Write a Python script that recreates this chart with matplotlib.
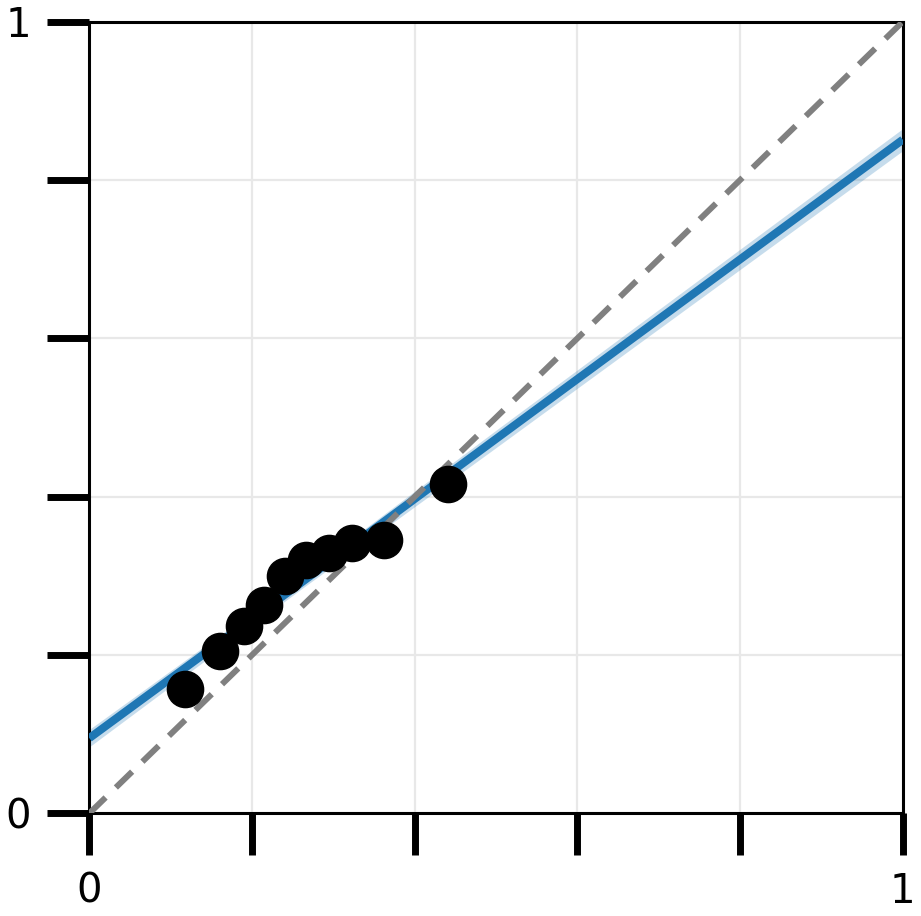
import matplotlib
matplotlib.use("Agg")
import matplotlib.pyplot as plt
import numpy as np

# observed points
pred = [0.117, 0.161, 0.190, 0.215, 0.241, 0.266, 0.295, 0.323, 0.362, 0.441]
obs = [0.157, 0.205, 0.236, 0.263, 0.300, 0.320, 0.329, 0.341, 0.345, 0.416]

# fitted line and its band
fit_x = [0.0, 0.26, 0.5, 1.0]
fit_y = [0.095, 0.291, 0.473, 0.851]
band_lo = [0.084, 0.283, 0.462, 0.837]
band_hi = [0.106, 0.299, 0.484, 0.865]

ticks = [0, 0.2, 0.4, 0.6, 0.8, 1.0]
tick_labels = ["0", "", "", "", "", "1"]

fig = plt.figure(figsize=(9.21, 9.16), dpi=100)
ax = fig.add_axes([0.0970, 0.1121, 0.8832, 0.8642])

ax.grid(True, color="#e8e8e8", lw=1.6, zorder=0)
ax.fill_between(fit_x, band_lo, band_hi, color="#1f77b4", alpha=0.25, lw=0, zorder=2)
ax.plot(fit_x, fit_y, color="#1f77b4", lw=5.8, zorder=3, solid_capstyle="butt")
ax.plot([0, 1], [0, 1], color="gray", lw=4.3, ls=(0, (3.8, 2.4)), zorder=4)
ax.scatter(pred, obs, s=680, color="black", zorder=5, clip_on=False)

ax.set_xlim(0, 1)
ax.set_ylim(0, 1)
ax.set_xticks(ticks)
ax.set_yticks(ticks)
ax.set_xticklabels(tick_labels)
ax.set_yticklabels(tick_labels)
ax.tick_params(direction="out", length=30, width=5, labelsize=29, pad=12)
for s in ax.spines.values():
    s.set_linewidth(2.2)
ax.set_axisbelow(True)

fig.savefig("out.png", dpi=100)
